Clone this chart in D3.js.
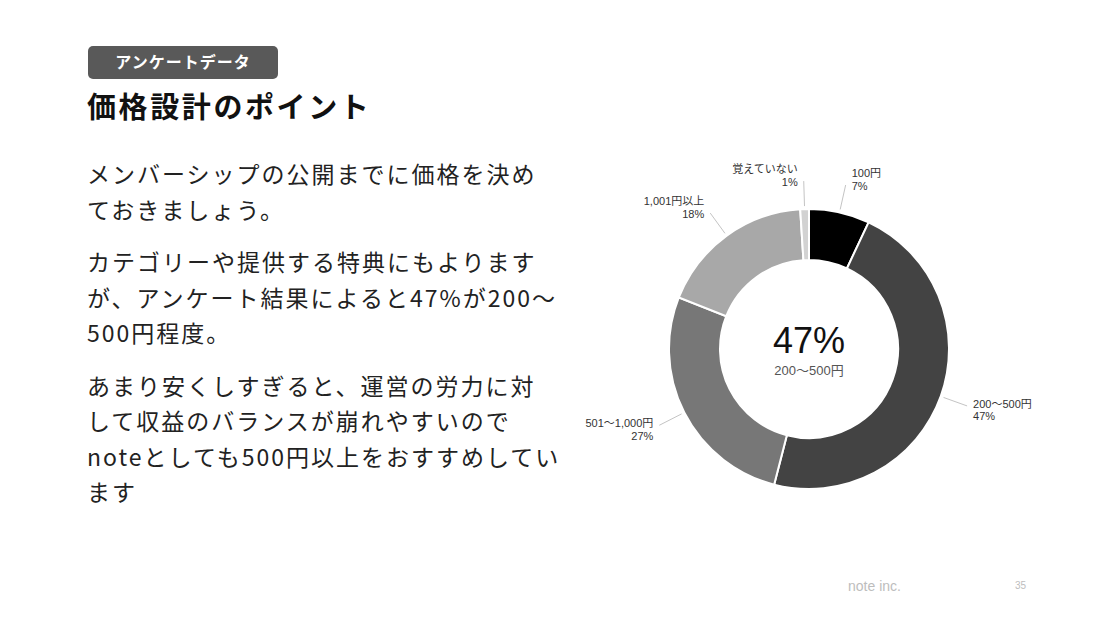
<!DOCTYPE html>
<html>
<head>
<meta charset="utf-8">
<script src="https://cdn.jsdelivr.net/npm/d3@7"></script>
<style>
  html, body { margin: 0; padding: 0; background: #fff; }
  svg { display: block; }
</style>
</head>
<body>
<svg></svg>
<script>
// survey data
var categories = ['100円', '200〜500円', '501〜1,000円', '1,001円以上', '覚えていない'];
var shares = [7, 47, 27, 18, 1];
var sliceColors = ['#000000', '#434343', '#777777', '#a8a8a8', '#d2d2d2'];

var badgeText = 'アンケートデータ';
var titleText = '価格設計のポイント';
var paragraphs = [
    ['メンバーシップの公開までに価格を決め', 'ておきましょう。'],
    ['カテゴリーや提供する特典にもよります', 'が、アンケート結果によると47%が200〜', '500円程度。'],
    ['あまり安くしすぎると、運営の労力に対', 'して収益のバランスが崩れやすいので', 'noteとしても500円以上をおすすめしてい', 'ます']
];
var centerValue = '47%';
var centerLabel = '200〜500円';

var W = 1108, H = 623;
var jp = '"Noto Sans CJK JP", "Noto Sans", sans-serif';
var latin = '"Liberation Sans", Arial, "Noto Sans CJK JP", sans-serif';

var svg = d3.select('svg')
    .attr('width', W)
    .attr('height', H);

// header badge
svg.append('rect')
    .attr('x', 88).attr('y', 46)
    .attr('width', 190).attr('height', 33)
    .attr('rx', 5)
    .attr('fill', '#595959');

svg.append('text')
    .attr('x', 183).attr('y', 68)
    .attr('text-anchor', 'middle')
    .style('font-family', jp)
    .style('font-size', '16px')
    .style('font-weight', 700)
    .style('letter-spacing', '1px')
    .attr('fill', '#fff')
    .text(badgeText);

svg.append('text')
    .attr('x', 87).attr('y', 118)
    .style('font-family', jp)
    .style('font-size', '29px')
    .style('font-weight', 700)
    .style('letter-spacing', '2.6px')
    .attr('fill', '#111')
    .text(titleText);

// body text
var lineH = 35.5, paraGap = 17, y = 183;
paragraphs.forEach(function (p) {
    p.forEach(function (line) {
        svg.append('text')
            .attr('x', 87).attr('y', y)
            .style('font-family', jp)
            .style('font-size', '23px')
            .style('letter-spacing', '2px')
            .attr('fill', '#222')
            .text(line);
        y += lineH;
    });
    y += paraGap;
});

// donut
var cx = 809, cy = 349, rOuter = 140, rInner = 89;
var data = categories.map(function (c, i) { return { name: c, value: shares[i], color: sliceColors[i] }; });

var pie = d3.pie().sort(null).value(function (d) { return d.value; });
var arc = d3.arc().innerRadius(rInner).outerRadius(rOuter);
var arcs = pie(data);

var g = svg.append('g').attr('transform', 'translate(' + cx + ',' + cy + ')');

g.selectAll('path.slice')
    .data(arcs)
    .enter().append('path')
    .attr('class', 'slice')
    .attr('d', arc)
    .attr('fill', function (d) { return d.data.color; })
    .attr('stroke', '#fff')
    .attr('stroke-width', 2);

// leader lines + labels
var lineStart = d3.arc().innerRadius(rOuter + 3).outerRadius(rOuter + 3);
var lineEnd = d3.arc().innerRadius(rOuter + 28).outerRadius(rOuter + 28);

function mid(d) { return (d.startAngle + d.endAngle) / 2; }

g.selectAll('line.leader')
    .data(arcs)
    .enter().append('line')
    .attr('class', 'leader')
    .attr('x1', function (d) { return lineStart.centroid(d)[0]; })
    .attr('y1', function (d) { return lineStart.centroid(d)[1]; })
    .attr('x2', function (d) { return lineEnd.centroid(d)[0]; })
    .attr('y2', function (d) { return lineEnd.centroid(d)[1]; })
    .attr('stroke', '#c4c4c4')
    .attr('stroke-width', 1);

var labels = g.selectAll('text.lbl')
    .data(arcs)
    .enter().append('text')
    .attr('class', 'lbl')
    .style('font-family', latin)
    .style('font-size', '11px')
    .attr('fill', '#333')
    .attr('text-anchor', function (d) { return Math.sin(mid(d)) >= 0 ? 'start' : 'end'; })
    .attr('transform', function (d) {
        var p = lineEnd.centroid(d);
        var right = Math.sin(mid(d)) >= 0;
        var upper = Math.cos(mid(d)) > 0;
        var x = p[0] + (right ? 6 : -6);
        var yy = upper ? p[1] - 8 : p[1] + 2;
        return 'translate(' + x + ',' + yy + ')';
    });

labels.append('tspan')
    .attr('x', 0).attr('dy', 0)
    .text(function (d) { return d.data.name; });
labels.append('tspan')
    .attr('x', 0).attr('dy', 12.5)
    .text(function (d) { return d3.format('.0f')(d.data.value) + '%'; });

// center text
g.append('text')
    .attr('y', 4)
    .attr('text-anchor', 'middle')
    .style('font-family', latin)
    .style('font-size', '36px')
    .attr('fill', '#111')
    .text(centerValue);

g.append('text')
    .attr('y', 26)
    .attr('text-anchor', 'middle')
    .style('font-family', latin)
    .style('font-size', '13px')
    .attr('fill', '#555')
    .text(centerLabel);

// footer
svg.append('text')
    .attr('x', 848).attr('y', 591)
    .style('font-family', latin)
    .style('font-size', '14px')
    .attr('fill', '#bdbdbd')
    .text('note inc.');

svg.append('text')
    .attr('x', 1015).attr('y', 589)
    .style('font-family', latin)
    .style('font-size', '10px')
    .attr('fill', '#bdbdbd')
    .text('35');
</script>
</body>
</html>
